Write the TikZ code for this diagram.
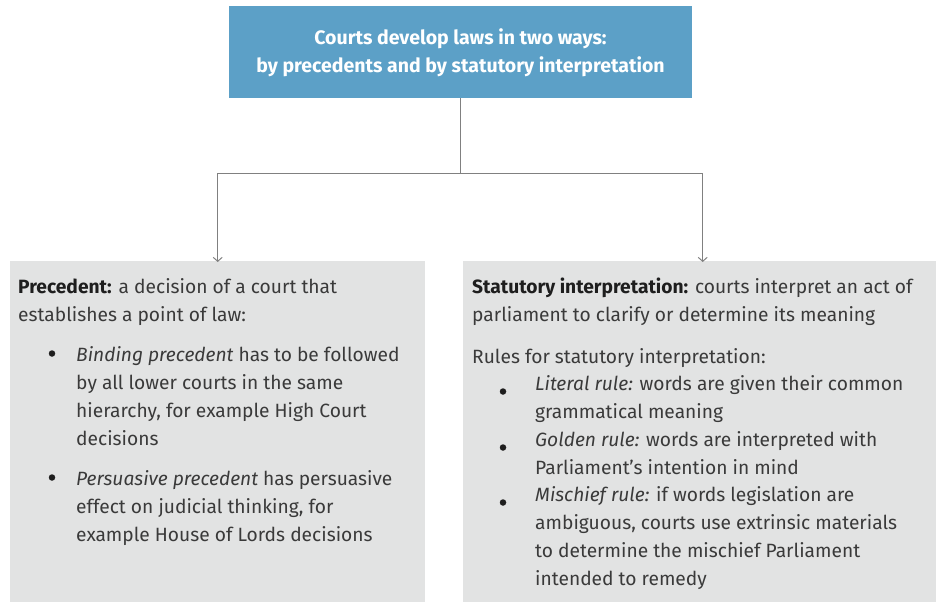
\documentclass[tikz,border=0pt]{standalone}
\usepackage{fontspec}
\setmainfont{Fira Sans}
\usetikzlibrary{arrows.meta}
\definecolor{hdrblue}{HTML}{5CA0C7}
\definecolor{boxgray}{HTML}{E2E3E3}
\definecolor{linegray}{HTML}{808080}
\definecolor{bodytext}{HTML}{3A3A3A}
\definecolor{strongtext}{HTML}{1E1E1E}
\tikzset{
  hdr/.style={fill=hdrblue, draw=none, inner sep=0pt},
  panel/.style={fill=boxgray, draw=none, inner sep=0pt},
  txt/.style={anchor=base west, inner sep=0pt, text=bodytext, font=\fontsize{19.2}{22}\selectfont},
  htxt/.style={anchor=base, inner sep=0pt, text=white, font=\fontsize{19.5}{22}\selectfont\bfseries},
  conn/.style={draw=linegray, line width=1.3pt},
  arr/.style={conn, -{Straight Barb[length=4pt, width=9pt, line width=1pt]}},
  dot/.style={circle, fill=strongtext, inner sep=0pt, minimum size=6.5pt}
}
\newcommand{\lead}[1]{\textcolor{strongtext}{\bfseries #1}}
\begin{document}
\begin{tikzpicture}[x=1pt, y=-1pt]
\useasboundingbox (0,0) rectangle (936,602);
% boxes
\node[hdr, minimum width=463pt, minimum height=91.7pt, anchor=north west] (top) at (229,6) {};
\node[panel, minimum width=415pt, minimum height=341pt, anchor=north west] (prec) at (10,261) {};
\node[panel, minimum width=473pt, minimum height=341pt, anchor=north west] (stat) at (463,261) {};
% header text
\node[htxt] (h1) at (460.5,44.5) {Courts develop laws in two ways:};
\node[htxt] (h2) at (460.5,72) {by precedents and by statutory interpretation};
% connectors
\draw[conn] (top.south) -- ++(0,75.5) coordinate (junction);
\draw[arr] (junction) -| ([yshift=-1pt]prec.north);
\draw[arr] (junction) -| ([xshift=3pt, yshift=-1pt]stat.north);
% left panel
\node[txt] (p1) at (18,293) {\lead{Precedent:} a decision of a court that};
\node[txt] (p2) at (18,321) {establishes a point of law:};
\node[dot] (b1) at (52,353.5) {};
\node[txt] (p3) at (76,361.5) {\textit{Binding precedent} has to be followed};
\node[txt] (p4) at (76,389.5) {by all lower courts in the same};
\node[txt] (p5) at (76,417.5) {hierarchy, for example High Court};
\node[txt] (p6) at (76,445.5) {decisions};
\node[dot] (b2) at (52,477.5) {};
\node[txt] (p7) at (76,485.5) {\textit{Persuasive precedent} has persuasive};
\node[txt] (p8) at (76,513.5) {effect on judicial thinking, for};
\node[txt] (p9) at (76,541.5) {example House of Lords decisions};
% right panel
\node[txt] (s1) at (472,293) {\lead{Statutory interpretation:} courts interpret an act of};
\node[txt] (s2) at (472,321) {parliament to clarify or determine its meaning};
\node[txt] (s3) at (472,363) {Rules for statutory interpretation:};
\node[dot] (c1) at (503,391.5) {};
\node[txt] (s4) at (535,390) {\textit{Literal rule:} words are given their common};
\node[txt] (s5) at (535,418) {grammatical meaning};
\node[dot] (c2) at (503,447.5) {};
\node[txt] (s6) at (535,446) {\textit{Golden rule:} words are interpreted with};
\node[txt] (s7) at (535,474) {Parliament’s intention in mind};
\node[dot] (c3) at (503,502.5) {};
\node[txt] (s8) at (535,501) {\textit{Mischief rule:} if words legislation are};
\node[txt] (s9) at (535,529) {ambiguous, courts use extrinsic materials};
\node[txt] (s10) at (535,557) {to determine the mischief Parliament};
\node[txt] (s11) at (535,585) {intended to remedy};
\end{tikzpicture}
\end{document}
